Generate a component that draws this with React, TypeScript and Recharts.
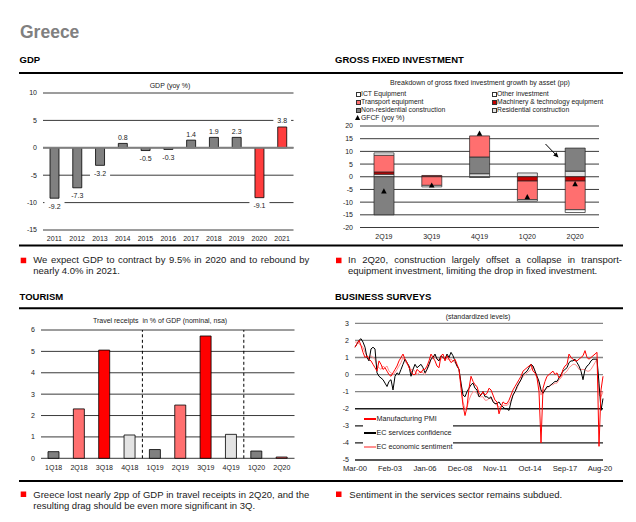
import React from 'react';
import {
  BarChart,
  Bar,
  ComposedChart,
  LineChart,
  Line,
  XAxis,
  YAxis,
  CartesianGrid,
  ReferenceLine,
  Cell,
  LabelList,
} from 'recharts';

const FONT = '"Liberation Sans", Arial, Helvetica, sans-serif';

// ---------------- GDP ----------------
const gdpYears = ['2011', '2012', '2013', '2014', '2015', '2016', '2017', '2018', '2019', '2020', '2021'];
const gdpValues = [-9.2, -7.3, -3.2, 0.8, -0.5, -0.3, 1.4, 1.9, 1.9, -9.1, 3.8];
const gdpLabels = ['-9.2', '-7.3', '-3.2', '0.8', '-0.5', '-0.3', '1.4', '1.9', '2.3', '-9.1', '3.8'];
const gdpForecastYears = ['2020', '2021'];
const gdpTicks = [10, 5, 0, -5, -10, -15];

// ---------------- Gross fixed investment ----------------
const gfiQuarters = ['2Q19', '3Q19', '4Q19', '1Q20', '2Q20'];
const gfiResidential = [1.0, 0, 1.2, 1.5, 2.2];
const gfiMachinery = [0.9, 0.5, 0, -1.7, -1.7];
const gfiNonResidential = [-15.0, 0, 6.6, 0, 9.1];
const gfiTransport = [6.6, -3.4, 8.3, -7.3, -11.3];
const gfiICT = [0.9, 0, 0, 0, 0];
const gfiOther = [0, -0.6, -0.3, -0.6, -1.1];
const gfiGFCF = [-5.7, -3.4, 17.0, -8.0, -2.9];
const gfiTicks = [20, 15, 10, 5, 0, -5, -10, -15, -20];

// ---------------- Tourism ----------------
const tourQuarters = ['1Q18', '2Q18', '3Q18', '4Q18', '1Q19', '2Q19', '3Q19', '4Q19', '1Q20', '2Q20'];
const tourReceipts = [0.31, 2.31, 5.06, 1.09, 0.41, 2.49, 5.72, 1.12, 0.34, 0.06];
const tourYearEnds = ['4Q18', '4Q19'];
const tourTicks = [0, 1, 2, 3, 4, 5, 6];

// ---------------- Business surveys (every 2 months from Mar-00) ----------------
const surveyTickLabels = ['Mar-00', 'Feb-03', 'Jan-06', 'Dec-08', 'Nov-11', 'Oct-14', 'Sep-17', 'Aug-20'];
const surveyTickMonths = [0, 35, 70, 105, 140, 175, 210, 245];
const surveyTicks = [3, 2, 1, 0, -1, -2, -3, -4, -5];
const surveyNames = ['Manufacturing PMI', 'EC services confidence', 'EC economic sentiment'];
const servicesConfidence = [
  1.6, 1.8, 2.0, 2.1, 1.9, 1.6, 1.0, 0.8, 1.5, 1.6,
  1.5, 0.1, -0.1, -0.2, -0.3, -0.5, -0.7, -0.4, -0.3, -0.9,
  -0.1, 0.1, 0.0, 0.3, 0.6, 0.9, 0.7, 0.5, -0.1, 0.3,
  0.6, 0.4, 0.5, 0.6, 0.4, 0.1, 0.3, 0.6, 0.9, 1.0,
  1.2, 0.9, 0.8, 1.1, 1.0, 0.9, 1.2, 1.0, 1.3, 1.1,
  0.8, 0.5, 0.3, -0.5, -1.2, -1.3, -1.0, -0.8, -0.6, -0.5,
  -0.8, -0.9, -1.3, -1.2, -1.0, -1.3, -1.3, -1.4, -1.3, -1.6,
  -1.7, -1.7, -1.6, -1.8, -1.9, -2.0, -2.0, -2.1, -1.6, -1.2,
  -1.0, -0.7, -0.5, -0.3, 0.0, 0.1, 0.2, 0.4, 0.6, 0.5,
  0.2, -0.1, -0.4, -0.9, -1.1, -0.9, -0.7, -0.7, -0.6, -0.5,
  -0.4, -0.4, -0.2, 0.0, 0.2, 0.3, 0.4, 0.7, 0.8, 0.8,
  0.9, 0.7, 0.5, 0.2, -0.3, 0.3, 0.5, 0.6, 0.8, 0.9,
  0.9, 0.9, -0.5, -2.1, -1.4,
];
const manufacturingPMI = [
  1.6, 1.8, 2.0, 1.7, 1.3, 1.0, 1.1, 0.9, 0.8, 0.6,
  0.4, 0.2, 0.8, 0.6, 0.3, 0.4, 0.2, 0.0, -0.1, 0.1,
  0.3, 0.5, 0.8, 1.0, 1.2, 0.9, 0.7, 0.4, 0.2, 0.0,
  0.0, 0.3, 0.2, 0.1, 0.3, 0.3, 0.5, 0.8, 1.2, 1.0,
  0.8, 0.5, 0.4, 1.1, 1.2, 0.8, 1.1, 0.9, 0.7, 0.8,
  0.9, 0.6, 0.3, -0.8, -1.8, -2.4, -1.9, -0.8, -0.1, -0.4,
  -0.6, -0.7, -1.1, -1.2, -1.0, -1.2, -1.1, -0.8, -0.9, -1.2,
  -1.5, -1.6, -2.3, -1.9, -1.6, -1.7, -1.7, -1.5, -1.2, -0.9,
  -0.7, -0.5, -0.3, -0.1, 0.2, 0.3, 0.4, 0.5, 0.6, 0.2,
  0.1, -0.2, -1.0, -4.0, -0.8, -0.4, -0.1, 0.0, 0.1, 0.2,
  0.0, 0.1, -0.2, -0.1, 0.3, 0.5, 0.6, 1.2, 1.0, 0.9,
  0.8, 0.8, 0.9, 1.0, 1.1, 1.4, 1.0, 0.9, 1.0, 1.1,
  1.2, 1.3, -4.2, -0.9, -0.1,
];
const economicSentiment = [
  1.9, 1.9, 1.8, 1.7, 1.6, 1.3, 1.1, 1.0, 1.1, 1.0,
  0.9, 0.5, 0.4, 0.3, 0.5, 0.4, 0.5, 0.2, 0.1, 0.0,
  0.1, 0.3, 0.5, 0.7, 1.0, 0.8, 0.6, 0.5, 0.3, 0.3,
  0.2, 0.0, 0.1, 0.2, 0.1, 0.0, 0.3, 0.5, 0.9, 1.0,
  1.1, 0.9, 0.9, 0.9, 1.0, 1.0, 0.9, 0.9, 0.9, 0.8,
  0.7, 0.5, 0.3, -0.5, -1.6, -2.0, -1.9, -1.5, -1.2, -1.0,
  -1.0, -1.1, -1.3, -1.3, -1.3, -1.5, -1.5, -1.4, -1.4, -1.5,
  -1.7, -1.8, -1.9, -1.9, -1.8, -1.8, -1.8, -1.7, -1.5, -1.2,
  -1.0, -0.8, -0.5, -0.3, -0.1, 0.0, 0.1, 0.2, 0.3, 0.5,
  0.2, -0.1, -0.5, -1.2, -0.9, -0.9, -0.8, -0.7, -0.6, -0.6,
  -0.5, -0.5, -0.3, -0.2, 0.0, 0.1, 0.2, 0.4, 0.5, 0.6,
  0.6, 0.5, 0.3, 0.3, 0.3, 0.3, 0.2, 0.2, 0.3, 0.5,
  0.7, 0.9, -1.2, -1.3, -1.0,
];

// ---------------- built tables ----------------
const gdpData = gdpYears.map((y, i) => ({ year: y, value: gdpValues[i], label: gdpLabels[i] }));
const gfiData = gfiQuarters.map((q, i) => ({
  q,
  res: gfiResidential[i],
  mach: gfiMachinery[i],
  nonres: gfiNonResidential[i],
  transport: gfiTransport[i],
  ict: gfiICT[i],
  other: gfiOther[i],
  gfcf: gfiGFCF[i],
}));
const tourData = tourQuarters.map((q, i) => ({ q, v: tourReceipts[i] }));
const surveyData = servicesConfidence.map((v, i) => ({
  m: i * 2,
  svc: v,
  pmi: manufacturingPMI[i],
  esi: economicSentiment[i],
}));

// ---------------- styles ----------------
const GRID = '#3a3a3a';
const C_GRAY = '#808080';
const C_LIGHT = '#e3e3e3';
const C_PINK = '#ff6f6f';
const C_RED = '#ff0000';
const C_GDP_RED = '#ff3d3d';
const C_DARKRED = '#c80000';
const tickStyle = { fontSize: 7, fill: '#1a1a1a', fontFamily: FONT };

const quarterColor = (q: string) =>
  q.startsWith('1') ? C_GRAY : q.startsWith('2') ? C_PINK : q.startsWith('3') ? C_RED : C_LIGHT;

function textWidth(s: string, size: number) {
  let w = 0;
  for (const ch of s) w += ch === '-' ? 0.333 : ch === '.' ? 0.278 : 0.556;
  return w * size;
}

const GdpLabel = (props: any) => {
  const { x, y, width, height, index } = props;
  const v = gdpValues[index];
  const top = Math.min(y, y + height);
  const bottom = Math.max(y, y + height);
  const cx = x + width / 2;
  const cy = v < 0 ? bottom + 8 : top - 6;
  const text = gdpLabels[index];
  const w = textWidth(text, 7) + 8;
  return (
    <g>
      <rect x={cx - w / 2} y={cy - 4.5} width={w} height={9} fill="#fff" />
      <text x={cx} y={cy} dy="0.35em" textAnchor="middle" fontSize={7} fill="#1a1a1a" fontFamily={FONT}>
        {text}
      </text>
    </g>
  );
};

const TriangleDot = (props: any) => {
  const { cx, cy, index } = props;
  if (cx == null || cy == null) return <g key={index} />;
  return (
    <polygon
      key={index}
      points={`${cx},${cy - 3} ${cx - 2.8},${cy + 2.2} ${cx + 2.8},${cy + 2.2}`}
      fill="#000"
    />
  );
};

const gfiLegend = [
  { name: 'ICT Equipment', color: '#ffffff', col: 0, row: 0 },
  { name: 'Other investment', color: '#ffffff', col: 1, row: 0 },
  { name: 'Transport equipment', color: C_PINK, col: 0, row: 1 },
  { name: 'Machinery & technology equipment', color: C_DARKRED, col: 1, row: 1 },
  { name: 'Non-residential construction', color: C_GRAY, col: 0, row: 2 },
  { name: 'Residential construction', color: C_LIGHT, col: 1, row: 2 },
];
const gfiLegendRows = [94.3, 102.2, 110, 117.8];
const gfiLegendCols = [356, 492];

const surveyColors = [C_RED, '#000000', '#ff8f8f'];
const surveyLegendRows = [419, 433, 447];

const absText = (
  left: number,
  cy: number,
  width: number,
  text: string,
  size: number,
  align: 'left' | 'center' = 'left'
) => (
  <div
    style={{
      position: 'absolute',
      left,
      top: cy - 5,
      width,
      height: 10,
      lineHeight: '10px',
      fontSize: size,
      fontFamily: FONT,
      color: '#1a1a1a',
      textAlign: align,
      whiteSpace: 'pre',
    }}
  >
    {text}
  </div>
);

const caption = (left: number, top: number, width: number, text: string) => (
  <div
    style={{
      position: 'absolute',
      left,
      top,
      width,
      fontSize: 9.5,
      lineHeight: '11px',
      fontFamily: FONT,
      color: '#1a1a1a',
      textAlign: 'justify',
    }}
  >
    {text}
  </div>
);

export default function App() {
  return (
    <div
      style={{
        position: 'absolute',
        left: 0,
        top: 0,
        width: 636,
        height: 522,
        background: '#fff',
        overflow: 'hidden',
        fontFamily: FONT,
      }}
    >
      <svg width={636} height={522} style={{ position: 'absolute', left: 0, top: 0 }}>
        <text x={20} y={37.5} fontSize={17.5} fontWeight="bold" fill="#808080" fontFamily={FONT}>
          Greece
        </text>
        <text x={19.5} y={63} fontSize={9.5} fontWeight="bold" fill="#000" fontFamily={FONT}>
          GDP
        </text>
        <text x={335} y={63} fontSize={9.5} fontWeight="bold" fill="#000" fontFamily={FONT}>
          GROSS FIXED INVESTMENT
        </text>
        <text x={19.5} y={300} fontSize={9.5} fontWeight="bold" fill="#000" fontFamily={FONT}>
          TOURISM
        </text>
        <text x={335} y={299.5} fontSize={9.5} fontWeight="bold" fill="#000" fontFamily={FONT}>
          BUSINESS SURVEYS
        </text>
        {[73, 245.5, 308.3, 481].map((y) => (
          <line key={y} x1={19} x2={623} y1={y} y2={y} stroke="#000" strokeWidth={2} />
        ))}
        {[
          [20.7, 257.7],
          [336, 257.7],
          [20.7, 491.5],
          [336, 491.5],
        ].map(([x, y]) => (
          <rect key={`${x}-${y}`} x={x} y={y} width={5.5} height={5.5} fill={C_RED} />
        ))}
      </svg>

      {/* GDP */}
      {absText(70, 86, 200, 'GDP (yoy %)', 7, 'center')}
      <div style={{ position: 'absolute', left: 0, top: 80 }}>
        <BarChart
          width={300}
          height={170}
          data={gdpData}
          margin={{ top: 13, right: 6.5, bottom: 0, left: 0 }}
          barCategoryGap={0}
        >
          <CartesianGrid vertical={false} stroke={GRID} strokeWidth={1} />
          <XAxis
            dataKey="year"
            axisLine={false}
            tickLine={false}
            tickSize={0}
            tickMargin={5.7}
            height={20}
            interval={0}
            tick={tickStyle}
          />
          <YAxis
            domain={[-15, 10]}
            ticks={gdpTicks}
            interval={0}
            width={43}
            axisLine={false}
            tickLine={false}
            tickSize={0}
            tickMargin={6}
            tick={tickStyle}
          />
          <ReferenceLine y={0} stroke="#808080" strokeWidth={2} />
          <Bar dataKey="value" barSize={9} stroke="#000" strokeWidth={0.8} isAnimationActive={false}>
            {gdpData.map((d) => (
              <Cell key={d.year} fill={gdpForecastYears.includes(d.year) ? C_GDP_RED : C_GRAY} />
            ))}
            <LabelList dataKey="label" content={GdpLabel} />
          </Bar>
        </BarChart>
      </div>
      {caption(33.3, 254.3, 276, 'We expect GDP to contract by 9.5% in 2020 and to rebound by nearly 4.0% in 2021.')}

      {/* Gross fixed investment */}
      {absText(330, 83.3, 300, 'Breakdown of gross fixed investment growth by asset (pp)', 7, 'center')}
      {gfiLegend.map((it) => (
        <div key={it.name}>
          <div
            style={{
              position: 'absolute',
              left: gfiLegendCols[it.col],
              top: gfiLegendRows[it.row] - 2,
              width: 3.2,
              height: 3.2,
              background: it.color,
              border: '0.8px solid #333',
            }}
          />
          {absText(gfiLegendCols[it.col] + 5, gfiLegendRows[it.row], 150, it.name, 6.8)}
        </div>
      ))}
      <svg width={8} height={8} style={{ position: 'absolute', left: 355, top: gfiLegendRows[3] - 4 }}>
        <polygon points="2.6,1 0,6 5.2,6" fill="#000" />
      </svg>
      {absText(361, gfiLegendRows[3], 150, 'GFCF (yoy %)', 6.8)}
      <div style={{ position: 'absolute', left: 320, top: 120 }}>
        <ComposedChart
          width={300}
          height={125}
          data={gfiData}
          stackOffset="sign"
          margin={{ top: 6, right: 21, bottom: 0, left: 0 }}
          barCategoryGap={0}
        >
          <CartesianGrid vertical={false} stroke={GRID} strokeWidth={1} />
          <XAxis
            dataKey="q"
            axisLine={false}
            tickLine={false}
            tickSize={0}
            tickMargin={6.5}
            height={17.5}
            interval={0}
            tick={tickStyle}
          />
          <YAxis
            domain={[-20, 20]}
            ticks={gfiTicks}
            interval={0}
            width={40}
            axisLine={false}
            tickLine={false}
            tickSize={0}
            tickMargin={7}
            tick={tickStyle}
          />
          <Bar dataKey="res" stackId="a" barSize={20} fill={C_LIGHT} stroke="#222" strokeWidth={0.7} isAnimationActive={false} />
          <Bar dataKey="mach" stackId="a" barSize={20} fill={C_DARKRED} stroke="#222" strokeWidth={0.7} isAnimationActive={false} />
          <Bar dataKey="nonres" stackId="a" barSize={20} fill={C_GRAY} stroke="#222" strokeWidth={0.7} isAnimationActive={false} />
          <Bar dataKey="transport" stackId="a" barSize={20} fill={C_PINK} stroke="#222" strokeWidth={0.7} isAnimationActive={false} />
          <Bar dataKey="ict" stackId="a" barSize={20} fill="#ffffff" stroke="#222" strokeWidth={0.7} isAnimationActive={false} />
          <Bar dataKey="other" stackId="a" barSize={20} fill="#ffffff" stroke="#222" strokeWidth={0.7} isAnimationActive={false} />
          <Line
            dataKey="gfcf"
            stroke="none"
            dot={TriangleDot}
            activeDot={false}
            isAnimationActive={false}
          />
        </ComposedChart>
      </div>
      <svg width={636} height={522} style={{ position: 'absolute', left: 0, top: 0, pointerEvents: 'none' }}>
        <line x1={545.5} y1={144} x2={557.5} y2={156.5} stroke="#000" strokeWidth={1} />
        <polygon points="558.5,157.5 553.2,155.6 556.6,152.3" fill="#000" />
      </svg>
      {caption(348, 254.3, 274, 'In 2Q20, construction largely offset a collapse in transport-equipment investment, limiting the drop in fixed investment.')}

      {/* Tourism */}
      {absText(20, 321.3, 280, 'Travel receipts  in % of GDP (nominal, nsa)', 7, 'center')}
      <div style={{ position: 'absolute', left: 0, top: 315 }}>
        <BarChart
          width={305}
          height={165}
          data={tourData}
          margin={{ top: 15, right: 10.5, bottom: 0, left: 0 }}
          barCategoryGap={0}
        >
          <CartesianGrid vertical={false} stroke={GRID} strokeWidth={1} />
          <XAxis
            dataKey="q"
            axisLine={false}
            tickLine={false}
            tickSize={0}
            tickMargin={6.7}
            height={21.7}
            interval={0}
            tick={tickStyle}
          />
          <YAxis
            domain={[0, 6]}
            ticks={tourTicks}
            interval={0}
            width={41}
            axisLine={false}
            tickLine={false}
            tickSize={0}
            tickMargin={6}
            tick={tickStyle}
          />
          {tourYearEnds.map((q) => (
            <ReferenceLine key={q} x={q} position="end" stroke="#000" strokeWidth={1} strokeDasharray="3 2.5" />
          ))}
          <Bar dataKey="v" barSize={11} stroke="#000" strokeWidth={0.8} isAnimationActive={false}>
            {tourData.map((d) => (
              <Cell key={d.q} fill={quarterColor(d.q)} />
            ))}
          </Bar>
        </BarChart>
      </div>
      {caption(33.3, 488.7, 276, 'Greece lost nearly 2pp of GDP in travel receipts in 2Q20, and the resulting drag should be even more significant in 3Q.')}

      {/* Business surveys */}
      {absText(330, 316.7, 296, '(standardized levels)', 7, 'center')}
      <div style={{ position: 'absolute', left: 320, top: 310 }}>
        <LineChart
          width={300}
          height={170}
          data={surveyData}
          margin={{ top: 13.3, right: 17, bottom: 0, left: 0 }}
        >
          {surveyTicks.map((v) => (
            <ReferenceLine key={v} y={v} stroke={v >= -1 ? '#858585' : '#1e1e1e'} strokeWidth={1.3} />
          ))}
          <XAxis
            dataKey="m"
            type="number"
            domain={[0, 248]}
            ticks={surveyTickMonths}
            tickFormatter={(v: number) => surveyTickLabels[surveyTickMonths.indexOf(v)]}
            axisLine={false}
            tickLine={false}
            tickSize={0}
            tickMargin={5.5}
            height={20}
            interval={0}
            tick={{ ...tickStyle, fontSize: 7.6 }}
          />
          <YAxis
            domain={[-5, 3]}
            ticks={surveyTicks}
            interval={0}
            width={35}
            axisLine={false}
            tickLine={false}
            tickSize={0}
            tickMargin={6}
            tick={tickStyle}
          />
          <Line dataKey="esi" stroke={surveyColors[2]} strokeWidth={1} dot={false} isAnimationActive={false} />
          <Line dataKey="svc" stroke={surveyColors[1]} strokeWidth={1} dot={false} isAnimationActive={false} />
          <Line dataKey="pmi" stroke={surveyColors[0]} strokeWidth={1} dot={false} isAnimationActive={false} />
        </LineChart>
      </div>
      <div
        style={{
          position: 'absolute',
          left: 363,
          top: 412,
          width: 90,
          height: 45,
          background: '#fff',
        }}
      />
      {surveyNames.map((n, i) => (
        <div key={n}>
          <div
            style={{
              position: 'absolute',
              left: 363.5,
              top: surveyLegendRows[i] - 0.6,
              width: 12,
              height: 1.3,
              background: surveyColors[i],
            }}
          />
          {absText(376.5, surveyLegendRows[i], 100, n, 7.2)}
        </div>
      ))}
      {caption(349.3, 488.7, 274, 'Sentiment in the services sector remains subdued.')}
    </div>
  );
}
